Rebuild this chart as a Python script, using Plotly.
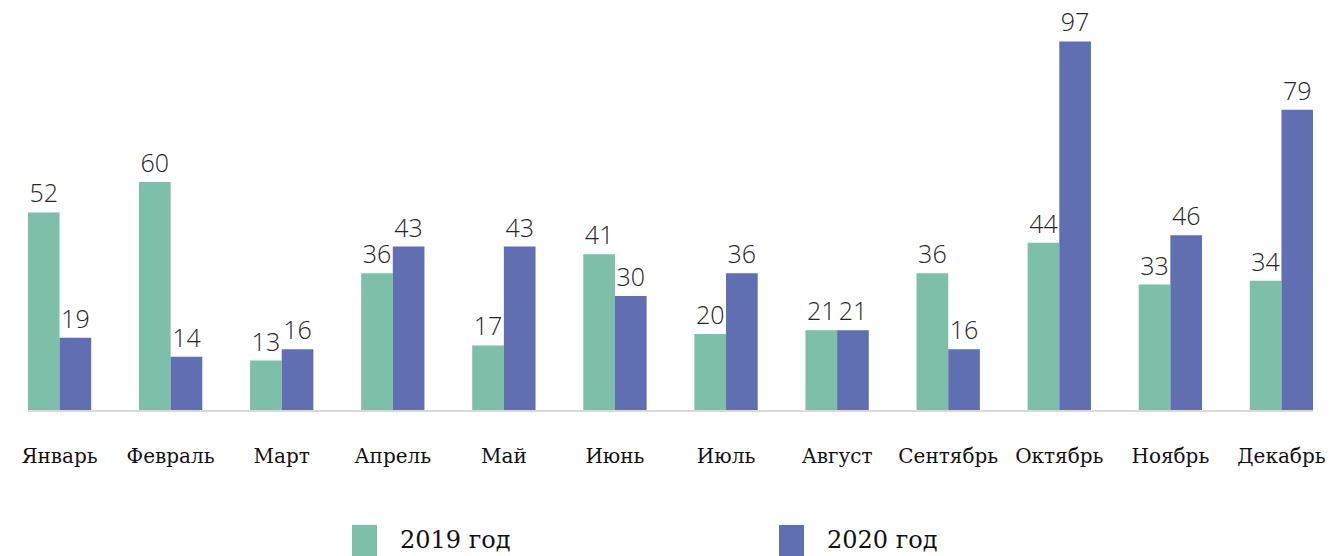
import plotly.graph_objects as go

months = ["Январь", "Февраль", "Март", "Апрель", "Май", "Июнь", "Июль",
          "Август", "Сентябрь", "Октябрь", "Ноябрь", "Декабрь"]
series_names = ["2019 год", "2020 год"]
values_2019 = [52, 60, 13, 36, 17, 41, 20, 21, 36, 44, 33, 34]
values_2020 = [19, 14, 16, 43, 43, 30, 36, 21, 16, 97, 46, 79]
colors = ["#7DBFA8", "#5F6FB2"]

W, H = 1332, 556
ML, MR, MT, MB = 28, 19, 30, 146
PW, PH = W - ML - MR, H - MT - MB

fig = go.Figure()
for name, vals, col in zip(series_names, [values_2019, values_2020], colors):
    fig.add_trace(go.Bar(
        x=months, y=vals, name=name,
        marker=dict(color=col, line=dict(width=0)),
        text=vals, textposition="outside", cliponaxis=False,
        textfont=dict(family="Open Sans", size=25, color="#262626", weight=300),
    ))

fig.update_layout(
    width=W, height=H,
    margin=dict(l=ML, r=MR, t=MT, b=MB, autoexpand=False),
    paper_bgcolor="white", plot_bgcolor="white",
    barmode="group", bargap=0.43, bargroupgap=0,
    showlegend=False,
    xaxis=dict(
        range=[-0.284, 11.284], showline=True, linecolor="#D9D9D9", linewidth=2,
        ticks="", ticklabelstandoff=27, automargin=False,
        tickfont=dict(family="DejaVu Serif", size=20, color="#111111"),
        showgrid=False, zeroline=False,
    ),
    yaxis=dict(range=[0, 100], visible=False, showgrid=False, zeroline=False),
)

# legend drawn manually (large squares, as in the reference)
legend_x = [352, 779]
for i, (name, col) in enumerate(zip(series_names, colors)):
    fig.add_shape(type="rect", xref="paper", yref="paper",
                  x0=(legend_x[i] - ML) / PW, x1=(legend_x[i] + 25 - ML) / PW,
                  y0=(H - MB - 556) / PH, y1=(H - MB - 525) / PH,
                  fillcolor=col, line=dict(width=0))
    fig.add_annotation(xref="paper", yref="paper",
                       x=(legend_x[i] + 46 - ML) / PW,
                       y=(H - MB - 540) / PH, xanchor="left", yanchor="middle",
                       text=name, showarrow=False,
                       font=dict(family="DejaVu Serif", size=24, color="#111111"))

fig.write_html("out.html",
               config={"displayModeBar": False},
               post_script="document.body.style.margin='0';document.body.style.overflow='hidden';")
